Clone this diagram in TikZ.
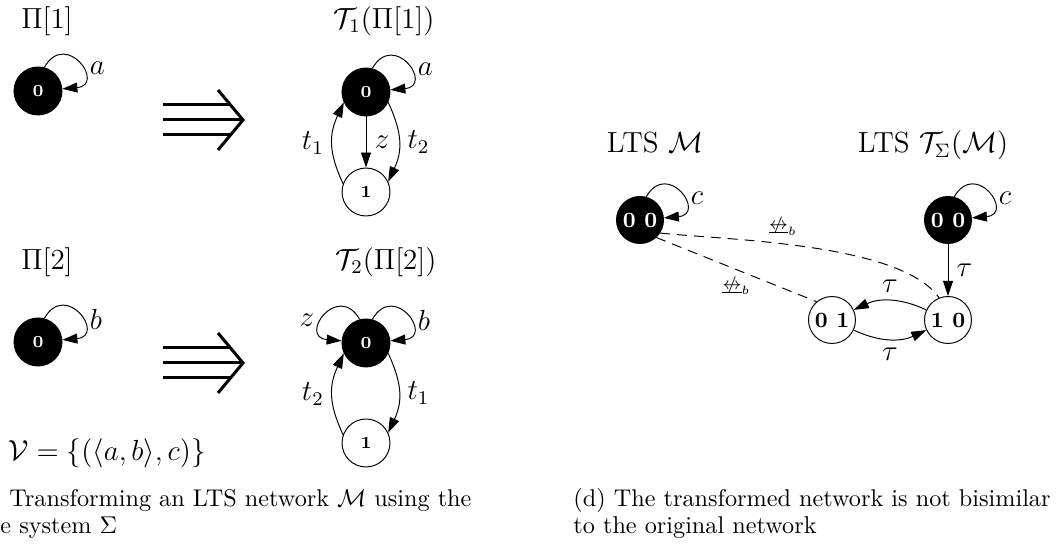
\documentclass[tikz,border=0pt]{standalone}
\usepackage{amsmath,amssymb}
\usetikzlibrary{positioning,arrows.meta}
\tikzset{>={Triangle[length=6.2pt,width=4.1pt]}}
\tikzset{bvert/.style={draw,circle,fill=black,text=white,minimum size=19.8pt,inner sep=0pt,font=\scriptsize\bfseries}}
\tikzset{wvert/.style={draw,circle,fill=white,minimum size=19.8pt,inner sep=0pt,font=\scriptsize\bfseries}}
\tikzset{bvertm/.style={bvert,minimum size=19.4pt,font=\small\bfseries}}
\tikzset{wvertm/.style={wvert,minimum size=19.4pt,font=\small\bfseries}}
\tikzset{lbl/.style={font=\large}}
\tikzset{rloop/.style={out=60,in=5,looseness=4}}
\tikzset{lloop/.style={out=120,in=175,looseness=4}}
\tikzset{nb/.style={dash pattern=on 4.1pt off 2.9pt}}
\def\nbis{$\mathrel{\ooalign{$\underline{\leftrightarrow}$\cr\hidewidth$/$\hidewidth\cr}}_b$}

\begin{document}
\begin{tikzpicture}[x=0.4128pt,y=0.4128pt]
	\useasboundingbox (0,0) rectangle (1059,-546);
	% left: Pi[1] and Pi[2]
		\node[lbl] (p1) at (47,-21) {$\Pi[1]$};
		\node[bvert] (a0) at (38,-91) {0};
		\draw[->] (a0.75) to[rloop] node[pos=0.6,right] {\large$a$} (a0.5);
		\node[lbl] (p2) at (47,-262) {$\Pi[2]$};
		\node[bvert] (b0) at (38,-342) {0};
		\draw[->] (b0.75) to[rloop] node[pos=0.6,right] {\large$b$} (b0.5);
		\node[lbl] (vset) at (107,-453) {$\mathcal{V}=\{(\langle a,b\rangle,c)\}$};

	% the two big arrows
		\foreach \y in {120,363}{
			\draw[line width=1.24pt] (163,-\y+15) -- (231,-\y+15) (163,-\y) -- (242,-\y) (163,-\y-15) -- (231,-\y-15);
			\draw[line width=1.24pt] (218,-\y+30) -- (243,-\y) -- (218,-\y-30);
		}

	% T_1(Pi[1])
		\node[lbl] (tp1) at (384,-21) {$\mathcal{T}_1(\Pi[1])$};
		\node[bvert] (c0) at (366,-92) {0};
		\node[wvert] (c1) at (366,-192) {1};
		\draw[->] (c0.75) to[rloop] node[pos=0.6,right] {\large$a$} (c0.5);
		\draw[->] (c0) -- node[right] {\large$z$} (c1);
		\draw[->] (c1.160) to[out=115,in=-115,looseness=1.1] node[left] {\large$t_1$} (c0.205);
		\draw[->] (c0.-25) to[out=-65,in=65,looseness=1.1] node[right] {\large$t_2$} (c1.25);

	% T_2(Pi[2])
		\node[lbl] (tp2) at (386,-262) {$\mathcal{T}_2(\Pi[2])$};
		\node[bvert] (d0) at (366,-343) {0};
		\node[wvert] (d1) at (366,-443) {1};
		\draw[->] (d0.75) to[rloop] node[pos=0.6,right] {\large$b$} (d0.5);
		\draw[->] (d0.105) to[lloop] node[pos=0.6,left] {\large$z$} (d0.175);
		\draw[->] (d1.160) to[out=115,in=-115,looseness=1.1] node[left] {\large$t_2$} (d0.205);
		\draw[->] (d0.-25) to[out=-65,in=65,looseness=1.1] node[right] {\large$t_1$} (d1.25);

	% right: LTS M and LTS T_Sigma(M)
		\node[lbl,anchor=base] (lm) at (655,-153) {LTS $\mathcal{M}$};
		\node[lbl,anchor=base] (lt) at (933,-153) {LTS $\mathcal{T}_\Sigma(\mathcal{M})$};
		\node[bvertm] (m00) at (640,-220) {0 0};
		\node[bvertm] (n00) at (948,-220) {0 0};
		\node[wvertm] (n01) at (832,-320) {0 1};
		\node[wvertm] (n10) at (948,-320) {1 0};
		\draw[->] (m00.75) to[rloop] node[pos=0.6,right] {\large$c$} (m00.5);
		\draw[->] (n00.75) to[rloop] node[pos=0.6,right] {\large$c$} (n00.5);
		\draw[->] (n00) -- node[right] {\large$\tau$} (n10);
		\draw[->] (n10) to[bend right=25] node[above] {\large$\tau$} (n01);
		\draw[->] (n01) to[bend right=25] node[below] {\large$\tau$} (n10);
		\draw[nb] (m00.-33) to[out=-6,in=125,looseness=0.6] node[pos=0.42,above=0pt,font=\scriptsize] {\nbis} (n10.112);
		\draw[nb] (m00.-47) -- node[below=2pt,font=\scriptsize] {\nbis} (n01.130);

	% captions
		\node[anchor=base west,inner sep=0pt] (capc1) at (9,-507) {Transforming an LTS network $\mathcal{M}$ using the};
		\node[anchor=base west,inner sep=0pt] (capc2) at (0,-534) {e system $\Sigma$};
		\node[anchor=base west,inner sep=0pt] (capd1) at (573,-507) {(d) The transformed network is not bisimilar};
		\node[anchor=base west,inner sep=0pt] (capd2) at (573,-534) {to the original network};
\end{tikzpicture}
\end{document}
